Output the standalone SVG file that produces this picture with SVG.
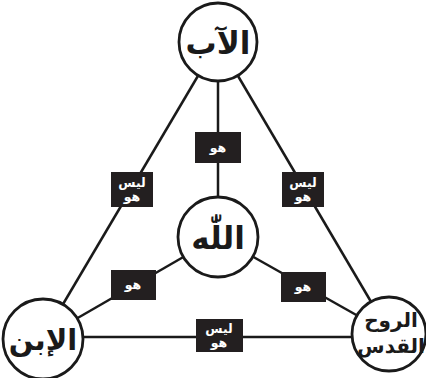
<svg xmlns="http://www.w3.org/2000/svg" width="426" height="378" viewBox="0 0 426 378">
  <style>
    .edge { stroke: #1a1a1a; stroke-width: 2.5; fill: none; }
    .node circle { fill: #ffffff; stroke: #1a1a1a; stroke-width: 2.8; }
    .node text { font-family: "DejaVu Sans", sans-serif; font-weight: bold; fill: #1a1a1a; text-anchor: middle; }
    .tag rect { fill: #231f20; }
    .tag text { font-family: "DejaVu Sans", sans-serif; font-weight: bold; font-size: 12.5px; fill: #ffffff; text-anchor: middle; }
  </style>
  <rect width="426" height="378" fill="#ffffff"/>

  <!-- connectors: triangle sides and spokes to the centre -->
  <g id="connectors">
    <line class="edge" x1="218" y1="42" x2="43" y2="338"/>
    <line class="edge" x1="218" y1="42" x2="390" y2="334"/>
    <line class="edge" x1="43" y1="337" x2="390" y2="337"/>
    <line class="edge" x1="218" y1="42" x2="218" y2="237"/>
    <line class="edge" x1="218" y1="237" x2="43" y2="338"/>
    <line class="edge" x1="218" y1="237" x2="390" y2="334"/>
  </g>

  <!-- edge labels -->
  <g id="label-top" class="tag">
    <rect x="195" y="132" width="46" height="31"/>
    <text x="218" y="152">هو</text>
  </g>
  <g id="label-left" class="tag">
    <rect x="111" y="172" width="42" height="35"/>
    <text x="132" y="187">ليس</text>
    <text x="132" y="201">هو</text>
  </g>
  <g id="label-right" class="tag">
    <rect x="282" y="172" width="42" height="35"/>
    <text x="303" y="187">ليس</text>
    <text x="303" y="201">هو</text>
  </g>
  <g id="label-lower-left" class="tag">
    <rect x="111" y="270" width="45" height="30"/>
    <text x="133" y="289">هو</text>
  </g>
  <g id="label-lower-right" class="tag">
    <rect x="281" y="272" width="45" height="30"/>
    <text x="303" y="291">هو</text>
  </g>
  <g id="label-bottom" class="tag">
    <rect x="196" y="319" width="47" height="33"/>
    <text x="219" y="333">ليس</text>
    <text x="219" y="347">هو</text>
  </g>

  <!-- nodes -->
  <g id="node-father" class="node">
    <circle cx="218" cy="42" r="39"/>
    <text x="218" y="54" font-size="31">الآب</text>
  </g>
  <g id="node-god" class="node">
    <circle cx="218" cy="237" r="40"/>
    <text x="218" y="249" font-size="31">اللّٰه</text>
  </g>
  <g id="node-son" class="node">
    <circle cx="43" cy="339" r="40"/>
    <text x="43" y="350" font-size="29">الإبن</text>
  </g>
  <g id="node-spirit" class="node">
    <circle cx="389" cy="334" r="37"/>
    <text x="391" y="327" font-size="20">الروح</text>
    <text x="391" y="353" font-size="20">القدس</text>
  </g>
</svg>
